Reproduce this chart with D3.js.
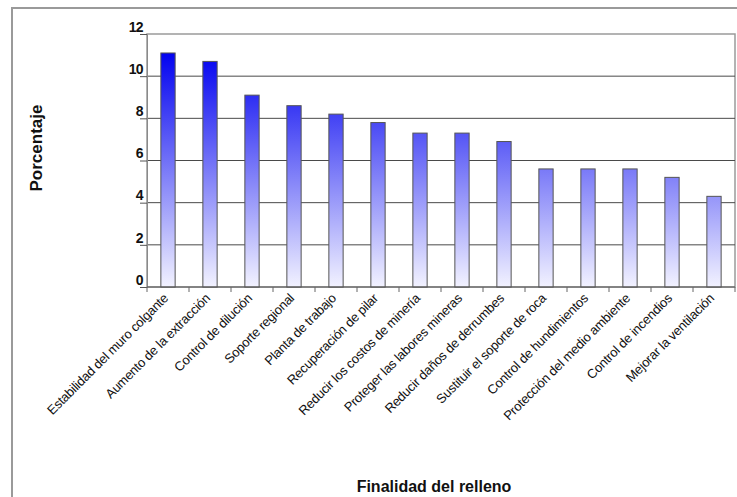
<!DOCTYPE html>
<html>
<head>
<meta charset="utf-8">
<script src="https://cdn.jsdelivr.net/npm/d3@7"></script>
<style>
  body { margin: 0; background: #fff; }
  svg { display: block; font-family: "Liberation Sans", Arial, sans-serif; }
</style>
</head>
<body>
<div id="chart"></div>
<script>
// Finalidad del relleno - porcentajes
const categories = [
  'Estabilidad del muro colgante',
  'Aumento de la extracción',
  'Control de dilución',
  'Soporte regional',
  'Planta de trabajo',
  'Recuperación de pilar',
  'Reducir los costos de minería',
  'Proteger las labores mineras',
  'Reducir daños de derrumbes',
  'Sustituir el soporte de roca',
  'Control de hundimientos',
  'Protección del medio ambiente',
  'Control de incendios',
  'Mejorar la ventilación'
];
const values = [11.1, 10.7, 9.1, 8.6, 8.2, 7.8, 7.3, 7.3, 6.9, 5.6, 5.6, 5.6, 5.2, 4.3];
const yTicks = [0, 2, 4, 6, 8, 10, 12];

const W = 737, H = 497;
const margin = { top: 34, right: 2, bottom: 210, left: 147 };
const width = W - margin.left - margin.right;
const height = H - margin.top - margin.bottom;

const svg = d3.select('#chart').append('svg')
  .attr('width', W)
  .attr('height', H);

// marco exterior
svg.append('rect')
  .attr('x', 12).attr('y', 8)
  .attr('width', W + 10).attr('height', H + 10)
  .attr('fill', 'none')
  .attr('stroke', '#9a9a9a')
  .attr('stroke-width', 2);

const g = svg.append('g')
  .attr('transform', 'translate(' + margin.left + ',' + margin.top + ')');

const x = d3.scaleBand()
  .domain(categories)
  .range([0, width])
  .paddingInner(0.66)
  .paddingOuter(0.33);

const y = d3.scaleLinear()
  .domain([0, 12])
  .range([height, 0]);

// degradado de las barras (en coordenadas del grafico)
const grad = svg.append('defs').append('linearGradient')
  .attr('id', 'barGrad')
  .attr('gradientUnits', 'userSpaceOnUse')
  .attr('x1', 0).attr('x2', 0)
  .attr('y1', y(11.2)).attr('y2', y(0));
grad.append('stop').attr('offset', '0%').attr('stop-color', '#0000f0');
grad.append('stop').attr('offset', '100%').attr('stop-color', '#f2f2ff');

// borde del area del grafico
g.append('rect')
  .attr('x', 0).attr('y', 0)
  .attr('width', width).attr('height', height)
  .attr('fill', 'none')
  .attr('stroke', '#9a9a9a')
  .attr('stroke-width', 1.5);

// lineas de cuadricula
g.selectAll('.grid')
  .data(yTicks.filter(d => d > 0 && d < 12))
  .enter()
  .append('line')
  .attr('class', 'grid')
  .attr('x1', 0).attr('x2', width)
  .attr('y1', d => y(d)).attr('y2', d => y(d))
  .attr('stroke', '#4a4a4a')
  .attr('stroke-width', 1);

// eje Y
const yAxis = g.append('g')
  .call(d3.axisLeft(y).tickValues(yTicks).tickSize(7).tickFormat(d3.format('d')));
yAxis.select('.domain').attr('stroke', '#8a8a8a');
yAxis.selectAll('.tick line').attr('stroke', '#555');
yAxis.selectAll('.tick text')
  .attr('x', -4)
  .attr('dy', '-0.2em')
  .style('font-size', '14px')
  .style('font-weight', 'bold')
  .style('letter-spacing', '-0.6px')
  .attr('fill', '#111');

// barras
g.selectAll('.bar')
  .data(values)
  .enter()
  .append('rect')
  .attr('class', 'bar')
  .attr('x', (d, i) => x(categories[i]))
  .attr('y', d => y(d))
  .attr('width', x.bandwidth())
  .attr('height', d => height - y(d))
  .attr('fill', 'url(#barGrad)')
  .attr('stroke', '#555')
  .attr('stroke-width', 1);

// eje X
const band = x.step();
const xAxis = g.append('g')
  .attr('transform', 'translate(0,' + height + ')');
xAxis.append('line')
  .attr('x1', 0).attr('x2', width)
  .attr('stroke', '#555');
xAxis.selectAll('.xtick')
  .data(d3.range(categories.length + 1))
  .enter()
  .append('line')
  .attr('x1', i => i * band).attr('x2', i => i * band)
  .attr('y1', 0).attr('y2', 5)
  .attr('stroke', '#666');
xAxis.selectAll('.xlabel')
  .data(categories)
  .enter()
  .append('text')
  .attr('class', 'xlabel')
  .attr('transform', d => 'translate(' + (x(d) + x.bandwidth() / 2 + 1) + ',12) rotate(-45)')
  .attr('text-anchor', 'end')
  .style('font-size', '13px')
  .style('letter-spacing', '-0.2px')
  .attr('fill', '#111')
  .text(d => d);

// titulos de ejes
svg.append('text')
  .attr('transform', 'translate(42,148) rotate(-90)')
  .attr('text-anchor', 'middle')
  .style('font-size', '17px')
  .style('font-weight', 'bold')
  .attr('fill', '#111')
  .text('Porcentaje');

svg.append('text')
  .attr('x', 434)
  .attr('y', 492)
  .attr('text-anchor', 'middle')
  .style('font-size', '16px')
  .style('font-weight', 'bold')
  .attr('fill', '#111')
  .text('Finalidad del relleno');
</script>
</body>
</html>
